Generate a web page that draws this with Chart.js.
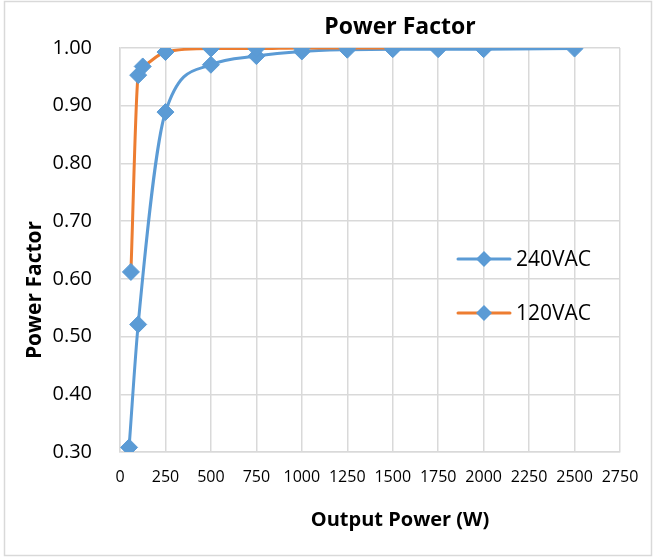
<!DOCTYPE html>
<html>
<head>
<meta charset="utf-8">
<script src="https://cdn.jsdelivr.net/npm/chart.js@4/dist/chart.umd.min.js"></script>
<style>
html,body{margin:0;padding:0;background:#fff;}
#wrap{width:655px;height:558px;position:relative;}
</style>
</head>
<body>
<div id="wrap"><canvas id="c" width="655" height="558"></canvas></div>
<script>
// ---- data ----
const chartTitle = "Power Factor";
const xAxisTitle = "Output Power (W)";
const yAxisTitle = "Power Factor";
const seriesNames = ["240VAC", "120VAC"];
const x240 = [50, 100, 250, 500, 750, 1000, 1250, 1500, 1750, 2000, 2500];
const y240 = [0.308, 0.521, 0.889, 0.971, 0.986, 0.994, 0.997, 0.998, 0.998, 0.998, 0.999];
const x120 = [60, 100, 125, 250, 500, 750, 1000, 1250, 1500];
const y120 = [0.612, 0.953, 0.968, 0.993, 0.999, 0.999, 1.000, 1.000, 1.000];
const xTicks = [0, 250, 500, 750, 1000, 1250, 1500, 1750, 2000, 2250, 2500, 2750];
const yTicks = [0.30, 0.40, 0.50, 0.60, 0.70, 0.80, 0.90, 1.00];

const BLUE = "#5B9BD5", ORANGE = "#ED7D31", GRID = "#D9D9D9";
const FONT = "'Open Sans', 'Liberation Sans', sans-serif";

function pts(xs, ys){ return xs.map((x,i)=>({x:x, y:ys[i]})); }

const decor = {
  id: 'decor',
  beforeDraw(chart){
    const ctx = chart.ctx;
    ctx.save();
    ctx.fillStyle = '#fff';
    ctx.fillRect(0,0,chart.width,chart.height);
    ctx.strokeStyle = GRID; ctx.lineWidth = 1.5;
    ctx.strokeRect(4.5, 1.5, 647, 554);
    ctx.restore();
  },
  afterDraw(chart){
    const ctx = chart.ctx;
    ctx.save();
    ctx.fillStyle = '#000';
    ctx.textAlign = 'center'; ctx.textBaseline = 'middle';
    ctx.font = "bold 23px " + FONT;
    ctx.fillText(chartTitle, 400, 27);
    ctx.font = "bold 20px " + FONT;
    ctx.fillText(xAxisTitle, 400, 520);
    ctx.font = "bold 21px " + FONT;
    ctx.translate(35, 290); ctx.rotate(-Math.PI/2);
    ctx.fillText(yAxisTitle, 0, 0);
    ctx.restore();
    // legend inside plot
    const items = [{c:BLUE, y:259}, {c:ORANGE, y:313}];
    items.forEach((it, i)=>{
      ctx.save();
      ctx.strokeStyle = it.c; ctx.lineWidth = 3; ctx.lineCap = 'round';
      ctx.beginPath(); ctx.moveTo(458, it.y); ctx.lineTo(510, it.y); ctx.stroke();
      ctx.fillStyle = BLUE;
      ctx.beginPath();
      ctx.moveTo(484, it.y-8); ctx.lineTo(492, it.y); ctx.lineTo(484, it.y+8); ctx.lineTo(476, it.y);
      ctx.closePath(); ctx.fill();
      ctx.fillStyle = '#000'; ctx.font = "21px " + FONT;
      ctx.textAlign = 'left'; ctx.textBaseline = 'middle';
      ctx.fillText(seriesNames[i], 516, it.y+1);
      ctx.restore();
    });
  }
};

new Chart(document.getElementById('c'), {
  type: 'line',
  data: {
    datasets: [
      { label: seriesNames[0], data: pts(x240, y240), borderColor: BLUE, backgroundColor: BLUE,
        pointBackgroundColor: BLUE, pointBorderColor: BLUE, borderWidth: 3, pointStyle: 'rectRot',
        pointRadius: 8.5, pointBorderWidth: 1, cubicInterpolationMode: 'monotone', fill: false, order: 1 },
      { label: seriesNames[1], data: pts(x120, y120), borderColor: ORANGE, backgroundColor: BLUE,
        pointBackgroundColor: BLUE, pointBorderColor: BLUE, borderWidth: 3, pointStyle: 'rectRot',
        pointRadius: 8.5, pointBorderWidth: 1, cubicInterpolationMode: 'monotone', fill: false, order: 0 }
    ]
  },
  options: {
    responsive: false,
    animation: false,
    layout: { padding: { top: 48, right: 35, left: 0, bottom: 0 } },
    plugins: { legend: { display: false }, title: { display: false }, tooltip: { enabled: false } },
    scales: {
      x: {
        type: 'linear', min: xTicks[0], max: xTicks[xTicks.length-1],
        afterBuildTicks(s){ s.ticks = xTicks.map(v=>({value:v})); },
        afterFit(s){ s.height = 106; },
        grid: { color: GRID, lineWidth: 1.5, drawTicks: false },
        border: { color: GRID, width: 1.5 },
        ticks: { color: '#000', font: { family: FONT, size: 16 }, padding: 16, maxRotation: 0, autoSkip: false,
                 callback: v => String(v) }
      },
      y: {
        type: 'linear', min: yTicks[0], max: yTicks[yTicks.length-1],
        afterBuildTicks(s){ s.ticks = yTicks.map(v=>({value:v})); },
        afterFit(s){ s.width = 120; },
        grid: { color: GRID, lineWidth: 1.5, drawTicks: false },
        border: { color: GRID, width: 1.5 },
        ticks: { color: '#000', font: { family: FONT, size: 20 }, padding: 28, autoSkip: false,
                 callback: v => Number(v).toFixed(2) }
      }
    }
  },
  plugins: [decor]
});
</script>
</body>
</html>
